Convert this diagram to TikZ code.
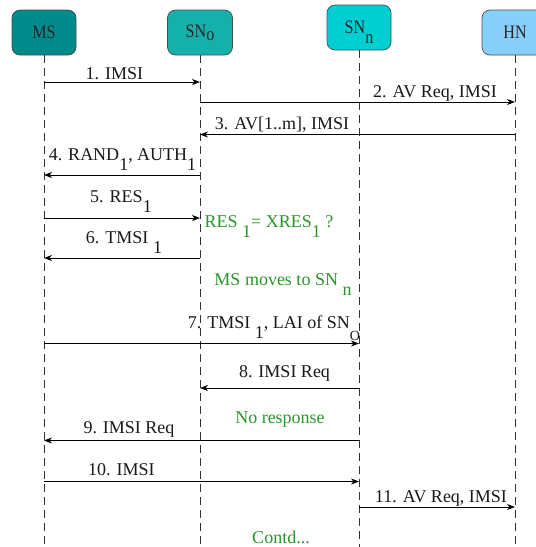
\documentclass[tikz,border=0pt]{standalone}
\usepackage{fontspec}
\setmainfont{Liberation Serif}
\usetikzlibrary{arrows.meta}

\definecolor{msfill}{RGB}{0,139,139}
\definecolor{snofill}{RGB}{22,176,170}
\definecolor{snnfill}{RGB}{0,206,209}
\definecolor{hnfill}{RGB}{135,206,250}
\definecolor{notegreen}{RGB}{40,150,40}

% lowered subscript that does not change the line's height or depth
\newcommand\lowsub[1]{\raisebox{-10pt}[0pt][0pt]{#1}}

\begin{document}
\begin{tikzpicture}[x=1pt,y=-1pt,
  entity/.style={draw=black!70, line width=0.7pt, rounded corners=8pt,
    minimum width=65pt, minimum height=45pt, inner sep=0pt, text=black!85,
    font=\fontsize{19}{20}\selectfont},
  lifeline/.style={draw=black!80, line width=0.8pt, dash pattern=on 8pt off 5pt},
  msg/.style={draw=black, line width=0.9pt,
    -{Stealth[length=8pt,width=6pt,inset=2.5pt]}},
  lbl/.style={anchor=base, inner sep=0pt, text=black!90,
    font=\fontsize{18}{20}\selectfont},
  note/.style={lbl, text=notegreen}]
\useasboundingbox (0,0) rectangle (536,547);

% participants
\node[entity, fill=msfill, minimum width=64pt] (ms) at (44,32.5) {\scalebox{0.85}[1]{MS}};
\node[entity, fill=snofill] (sno) at (200,32.5) {\scalebox{0.85}[1]{SN\raisebox{-3pt}{o}}};
\node[entity, fill=snnfill, minimum width=64pt] (snn) at (359,27.5) {\scalebox{0.85}[1]{SN\raisebox{-10pt}[0pt][0pt]{n}}};
\node[entity, fill=hnfill, minimum width=66pt] (hn) at (515,32.5) {\scalebox{0.85}[1]{HN}};

% lifelines
\coordinate (msend) at (44,547);
\coordinate (snoend) at (200,547);
\coordinate (snnend) at (359,547);
\coordinate (hnend) at (515,547);
\draw[lifeline] (ms.south) -- (msend);
\draw[lifeline] (sno.south) -- (snoend);
\draw[lifeline] (snn.south) -- (snnend);
\draw[lifeline] (hn.south) -- (hnend);

% messages
\draw[msg] (ms |- 0,82) -- (sno |- 0,82);
\node[lbl] (l1) at (114.5,79) {1. IMSI};

\draw[msg] (sno |- 0,102) -- (hn |- 0,102);
\node[lbl] (l2) at (435,97.5) {2. AV Req, IMSI};

\draw[msg] (hn |- 0,134.5) -- (sno |- 0,134.5);
\node[lbl] (l3) at (282,129) {3. AV[1..m], IMSI};

\draw[msg] (sno |- 0,175) -- (ms |- 0,175);
\node[lbl] (l4) at (122.5,160) {4. RAND\lowsub{1}, AUTH\lowsub{1}};

\draw[msg] (ms |- 0,218) -- (sno |- 0,218);
\node[lbl] (l5) at (121,202) {5. RES\lowsub{1}};

\draw[msg] (sno |- 0,258) -- (ms |- 0,258);
\node[lbl] (l6) at (124,243) {6. TMSI \lowsub{1}};

\node[note] (n1) at (269,227) {RES \lowsub{1}= XRES\lowsub{1} ?};
\node[note] (n2) at (283,285) {MS moves to SN \lowsub{n}};

\draw[msg] (ms |- 0,343.5) -- (snn |- 0,343.5);
\node[lbl] (l7) at (274,328.5) {7. TMSI \lowsub{1}, LAI of SN\raisebox{-12pt}[0pt][0pt]{\fontsize{14}{14}\selectfont O}};

\draw[msg] (snn |- 0,388) -- (sno |- 0,388);
\node[lbl] (l8) at (284.5,377.5) {8. IMSI Req};

\node[note] (n3) at (280,423.5) {No response};

\draw[msg] (snn |- 0,440.5) -- (ms |- 0,440.5);
\node[lbl] (l9) at (129,433) {9. IMSI Req};

\draw[msg] (ms |- 0,481.5) -- (snn |- 0,481.5);
\node[lbl] (l10) at (121.5,475.7) {10. IMSI};

\draw[msg] (snn |- 0,507) -- (hn |- 0,507);
\node[lbl] (l11) at (441,502) {11. AV Req, IMSI};

\node[note] (n4) at (281,543) {Contd...};
\end{tikzpicture}
\end{document}
